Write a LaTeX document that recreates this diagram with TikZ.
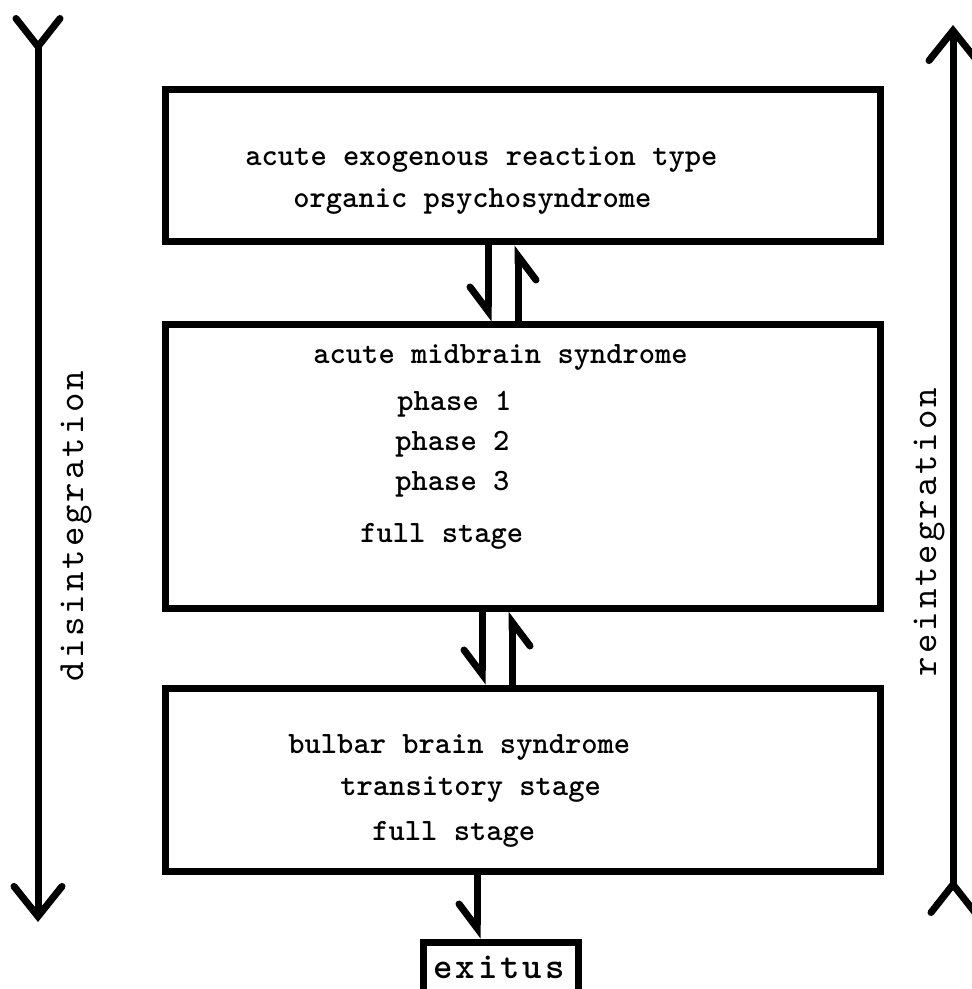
\documentclass[tikz,border=0pt]{standalone}
\usepackage{fontspec}
\newfontfamily\sidefont{lmmono10-regular.otf}[LetterSpace=8]
\newfontfamily\exfont{lmmonolt10-bold.otf}[LetterSpace=8]
\usetikzlibrary{arrows.meta, positioning}
\tikzset{
  stagebox/.style={rectangle, draw, line width=3.5pt, inner sep=0pt},
  boxtext/.style={anchor=base west, inner sep=0pt,
    font=\ttfamily\bfseries\fontsize{15.5}{18}\selectfont},
  sidetext/.style={anchor=base, rotate=90, inner sep=0pt,
    font=\sidefont\fontsize{18.5}{22}\selectfont},
  bigarrow/.style={line width=3.5pt, line cap=round,
    {Straight Barb[reversed, length=14pt, width=22pt, line cap=round]}-{Straight Barb[length=15pt, width=24pt, line cap=round]}},
  halfarrow/.style={line width=3.5pt,
    -{Straight Barb[right, length=12pt, width=18pt, line cap=round]}}
}

\begin{document}
\begin{tikzpicture}[x=0.5pt, y=-0.5pt]
  \useasboundingbox (0,0) rectangle (971,989);

  % stage boxes
  \node[stagebox, minimum width=357.5pt, minimum height=76pt] (b1) at (522.5,166) {};
  \node[stagebox, minimum width=357.5pt, minimum height=141.5pt] (b2) at (522.5,466.5) {};
  \node[stagebox, minimum width=357.5pt, minimum height=91.5pt] (b3) at (522.5,779.5) {};
  \node[stagebox, minimum width=77.5pt, minimum height=26.5pt] (ex) at (500.5,968.5) {};

  % box texts
  \node[boxtext] (t11) at (245,166) {acute exogenous reaction type};
  \node[boxtext] (t12) at (293,208) {organic psychosyndrome};

  \node[boxtext] (t21) at (313,363) {acute midbrain syndrome};
  \node[boxtext] (t22) at (397,410) {phase 1};
  \node[boxtext] (t23) at (395,450) {phase 2};
  \node[boxtext] (t24) at (395,490) {phase 3};
  \node[boxtext] (t25) at (360,542) {full stage};

  \node[boxtext] (t31) at (288,753) {bulbar brain syndrome};
  \node[boxtext] (t32) at (340,795) {transitory stage};
  \node[boxtext] (t33) at (372,840) {full stage};

  \node[boxtext, font=\exfont\fontsize{18.5}{22}\selectfont] (t41) at (433,978) {exitus};

  % transitions between stages
  \draw[halfarrow] ([xshift=-17.25pt]b1.south) -- ([xshift=-17.25pt]b2.north);
  \draw[halfarrow] ([xshift=-2.25pt]b2.north) -- ([xshift=-2.25pt]b1.south);
  \draw[halfarrow] ([xshift=-20.25pt]b2.south) -- ([xshift=-20.25pt]b3.north);
  \draw[halfarrow] ([xshift=-5.25pt]b3.north) -- ([xshift=-5.25pt]b2.south);
  \draw[halfarrow] ([xshift=-22.75pt]b3.south) -- ([xshift=-11.75pt]ex.north);

  % side arrows
  \coordinate (dtop) at (38,15);
  \coordinate (dbot) at (38,922);
  \coordinate (rtop) at (953,25);
  \coordinate (rbot) at (953,916);
  \draw[bigarrow] (dtop) -- (dbot);
  \draw[bigarrow] (rbot) -- (rtop);
  \node[sidetext] (dis) at (83,526) {disintegration};
  \node[sidetext] (rei) at (936,532) {reintegration};
\end{tikzpicture}
\end{document}
